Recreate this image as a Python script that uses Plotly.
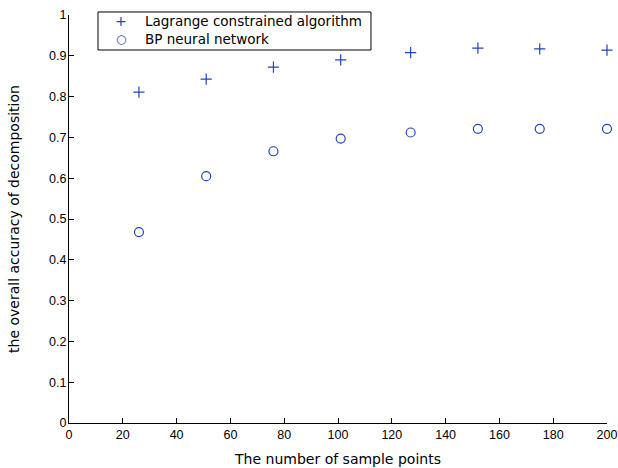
import plotly.graph_objects as go

sample_points = [26, 51, 76, 101, 127, 152, 175, 200]
lagrange_acc = [0.811, 0.843, 0.872, 0.890, 0.908, 0.919, 0.917, 0.914]
bp_acc = [0.468, 0.605, 0.666, 0.697, 0.712, 0.721, 0.721, 0.721]
series_names = ["Lagrange constrained algorithm", "BP neural network"]

x_ticks = list(range(0, 201, 20))
y_ticks = [i / 10 for i in range(11)]
y_labels = ["0", "0.1", "0.2", "0.3", "0.4", "0.5", "0.6", "0.7", "0.8", "0.9", "1"]

mcol = "#2244c4"
FONT = "DejaVu Sans, Liberation Sans, sans-serif"
TICKFONT = "Liberation Sans, Arial, sans-serif"

fig = go.Figure()
fig.add_trace(go.Scatter(
    x=sample_points, y=lagrange_acc, mode="markers",
    name=series_names[0], cliponaxis=False, showlegend=False,
    marker=dict(symbol="cross-thin-open", size=8, color=mcol, line=dict(width=1.2, color=mcol)),
))
fig.add_trace(go.Scatter(
    x=sample_points, y=bp_acc, mode="markers",
    name=series_names[1], cliponaxis=False, showlegend=False,
    marker=dict(symbol="circle-open", size=9, color=mcol, line=dict(width=1.2, color=mcol)),
))

# legend drawn as a box + text (MATLAB-style compact legend)
fig.add_shape(type="rect", xref="paper", yref="paper",
              x0=0.0539, x1=0.5613, y0=0.9142, y1=1.0074,
              line=dict(color="black", width=1), fillcolor="white", layer="above")
legend_rows_y = [0.9841, 0.9424]
legend_syms = ["+", "○"]
legend_sym_sizes = [14, 12]
for name, ry, sym, ss in zip(series_names, legend_rows_y, legend_syms, legend_sym_sizes):
    fig.add_annotation(xref="paper", yref="paper", x=0.0967, y=ry, text=sym,
                       showarrow=False, xanchor="center", yanchor="middle",
                       font=dict(family=FONT, size=ss, color=mcol))
    fig.add_annotation(xref="paper", yref="paper", x=0.1375, y=ry, text=name,
                       showarrow=False, xanchor="left", yanchor="middle",
                       font=dict(family=FONT, size=13.5, color="#000000"))

fig.update_layout(
    width=618, height=468,
    margin=dict(l=69, r=11, t=15, b=45),
    paper_bgcolor="white", plot_bgcolor="white",
    font=dict(family=FONT, size=12, color="#000000"),
    xaxis=dict(
        range=[0, 200], tickvals=x_ticks, ticktext=[str(v) for v in x_ticks],
        showline=True, linecolor="black", linewidth=1,
        ticks="inside", ticklen=5, tickcolor="black",
        tickfont=dict(family=TICKFONT, size=12.5), ticklabeloverflow="allow",
        showgrid=False, zeroline=False, mirror=False, automargin=False,
        title=dict(text="The number of sample points", standoff=13, font=dict(family=FONT, size=14)),
    ),
    yaxis=dict(
        range=[0, 1], tickvals=y_ticks, ticktext=y_labels,
        showline=True, linecolor="black", linewidth=1,
        ticks="inside", ticklen=5, tickcolor="black",
        tickfont=dict(family=TICKFONT, size=12.5), ticklabelstandoff=-1,
        showgrid=False, zeroline=False, mirror=False, automargin=False,
        title=dict(text="the overall accuracy of decomposition", standoff=26, font=dict(family=FONT, size=14)),
    ),
)

# remove the browser's default body margin so the 618x468 figure fills the window
fig.write_html(
    "out.html",
    config={"displayModeBar": False},
    post_script="document.body.style.margin='0';document.documentElement.style.overflow='hidden';",
)
